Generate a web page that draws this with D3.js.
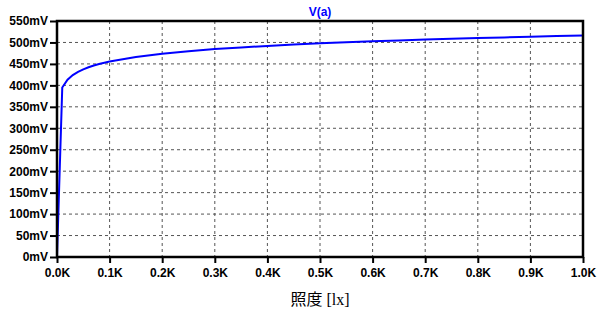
<!DOCTYPE html>
<html>
<head>
<meta charset="utf-8">
<script src="https://cdn.jsdelivr.net/npm/d3@7"></script>
<style>
  body { margin: 0; background: #fff; }
  .tick text { font-family: "Liberation Sans", Arial, sans-serif; font-size: 12px; font-weight: bold; fill: #000; }
</style>
</head>
<body>
<svg id="chart"></svg>
<script>
// illuminance steps [lx] and node voltage V(a) [mV]
const lux = [0, 10, 20, 30, 40, 50, 60, 70, 80, 90, 100,
    150, 200, 250, 300, 350, 400, 450, 500, 550, 600,
    650, 700, 750, 800, 850, 900, 950, 1000];
const va = [0, 395.0, 413.2, 423.9, 431.5, 437.3, 442.1, 446.2, 449.7, 452.8, 455.6,
    466.2, 473.8, 479.7, 484.5, 488.5, 492.0, 495.1, 497.9, 500.4, 502.7,
    504.8, 506.7, 508.6, 510.2, 511.8, 513.3, 514.8, 516.1];

const xTicks = [0, 100, 200, 300, 400, 500, 600, 700, 800, 900, 1000];
const xTickLabels = ["0.0K", "0.1K", "0.2K", "0.3K", "0.4K", "0.5K", "0.6K", "0.7K", "0.8K", "0.9K", "1.0K"];
const yTicks = [0, 50, 100, 150, 200, 250, 300, 350, 400, 450, 500, 550];

const title = "V(a)";
const xLabel = "照度 [lx]";

const width = 600, height = 313;
const margin = { top: 21, right: 17, bottom: 56, left: 57 };
const w = width - margin.left - margin.right;
const h = height - margin.top - margin.bottom;

const svg = d3.select("#chart").attr("width", width).attr("height", height);
const g = svg.append("g").attr("transform", `translate(${margin.left},${margin.top})`);

const x = d3.scaleLinear().domain([0, 1000]).range([0, w]);
const y = d3.scaleLinear().domain([0, 550]).range([h, 0]);

// grid
g.append("g").selectAll("line.vx")
    .data(xTicks.slice(1, -1))
    .join("line")
    .attr("x1", d => x(d)).attr("x2", d => x(d))
    .attr("y1", 0).attr("y2", h)
    .attr("stroke", "#555").attr("stroke-dasharray", "3,3");

g.append("g").selectAll("line.hy")
    .data(yTicks.slice(1, -1))
    .join("line")
    .attr("x1", 0).attr("x2", w)
    .attr("y1", d => y(d)).attr("y2", d => y(d))
    .attr("stroke", "#555").attr("stroke-dasharray", "3,3");

// axes
const xAxis = g.append("g")
    .attr("transform", `translate(0,${h})`)
    .call(d3.axisBottom(x).tickValues(xTicks).tickSize(6).tickPadding(5)
        .tickFormat((d, i) => xTickLabels[i]));

const yAxis = g.append("g")
    .call(d3.axisLeft(y).tickValues(yTicks).tickSize(7).tickPadding(2)
        .tickFormat(d => d + "mV"));

[xAxis, yAxis].forEach(a => {
    a.select(".domain").remove();
    a.selectAll(".tick line").attr("stroke", "#000").attr("stroke-width", 2);
});

// curve
g.append("path")
    .datum(lux.map((d, i) => [d, va[i]]))
    .attr("fill", "none")
    .attr("stroke", "#0000ff")
    .attr("stroke-width", 2)
    .attr("d", d3.line().x(d => x(d[0])).y(d => y(d[1])));

// frame
g.append("rect")
    .attr("width", w).attr("height", h)
    .attr("fill", "none")
    .attr("stroke", "#000")
    .attr("stroke-width", 2.5);

// title and axis label
svg.append("text")
    .attr("x", margin.left + w / 2).attr("y", 16)
    .attr("text-anchor", "middle")
    .style("font-family", "Liberation Sans, Arial, sans-serif")
    .style("font-size", "12px").style("font-weight", "bold")
    .style("fill", "#0000ff")
    .text(title);

svg.append("text")
    .attr("x", margin.left + w / 2).attr("y", 305)
    .attr("text-anchor", "middle")
    .style("font-family", "'Liberation Serif', 'Noto Sans CJK JP', serif")
    .style("font-size", "16px")
    .style("fill", "#000")
    .text(xLabel);
</script>
</body>
</html>
